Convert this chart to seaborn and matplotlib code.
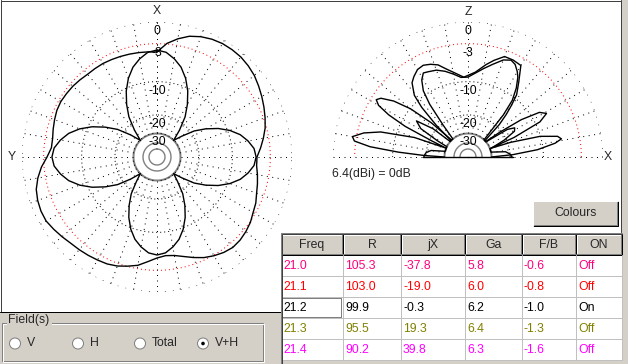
import numpy as np
import matplotlib
matplotlib.use("Agg")
import matplotlib.pyplot as plt
from matplotlib.patches import Rectangle, Circle
import seaborn as sns

# Diagrama horizontal (azimut en grados, de X hacia Y), ganancia en dB
az_clover_ang = np.arange(0, 360, 5)
az_clover_db = [-4.0, -4.3, -5.2, -6.4, -8.2, -10.6, -13.7, -17.4, -23.2, -30,
                -23.5, -17.7, -14.0, -10.9, -8.5, -6.7, -5.5, -4.6,
                -4.3,
                -4.6, -5.5, -6.7, -8.5, -10.9, -14.0, -17.7, -23.5, -30,
                -24.7, -18.9, -15.2, -12.1, -9.7, -7.9, -6.7, -5.8,
                -5.5,
                -5.8, -6.7, -7.9, -9.7, -12.1, -15.2, -18.9, -24.7, -30,
                -24.5, -18.7, -15.0, -11.9, -9.5, -7.7, -6.5, -5.6,
                -5.3,
                -5.6, -6.5, -7.7, -9.5, -11.9, -15.0, -18.7, -24.5, -30,
                -23.2, -17.4, -13.7, -10.6, -8.2, -6.4, -5.2, -4.3]
az_round_ang = np.arange(0, 360, 5)
az_round_db = [-4.31, -4.23, -4.15, -4.07, -3.99, -3.91, -3.83, -3.83, -3.83,
               -3.67, -3.52, -3.44, -3.36, -3.44, -3.67, -3.91, -4.15, -4.15,
               -3.52, -2.60, -1.88, -1.32, -1.05, -0.91, -0.91, -1.18, -1.46,
               -1.74, -1.88, -2.02, -2.17, -2.31, -2.60, -3.05, -3.52, -4.31,
               -4.98, -5.32, -5.15, -4.64, -3.99, -3.36, -2.90, -2.53, -2.31,
               -2.38, -2.60, -2.90, -3.36, -3.67, -4.15, -4.48, -4.81, -5.15,
               -5.15, -4.48, -3.83, -3.21, -2.75, -2.31, -1.88, -1.46, -1.05,
               -0.78, -0.58, -0.52, -0.52, -0.65, -0.91, -1.32, -2.02, -2.90]

# Diagrama vertical (elevación en grados desde X hacia Z)
el_a_ang = [0, 4, 8, 12, 20, 25, 29, 32, 35, 38, 40, 44, 46, 48, 50, 52, 56, 60,
            65, 70, 75, 79, 85, 93, 98, 104, 108, 112, 116, 120, 124, 127, 131,
            133, 135, 136, 139, 141, 145, 149, 152, 154, 166, 170, 174, 177, 180]
el_a_db = [-19.2, -20.0, -21.8, -30, -30, -20.9, -16.0, -15.4, -17.7, -25.8, -30,
           -30, -18.9, -14.8, -11.8, -9.2, -6.8, -4.2, -4.0, -4.0, -5.15, -6.2,
           -7.9, -9.0, -8.1, -6.8, -5.7, -5.15, -4.8, -4.98, -5.7, -6.4, -8.6,
           -11.8, -18.9, -30, -30, -18.9, -13.1, -15.4, -23.2, -30, -30, -22.0,
           -20.0, -19.5, -19.2]
el_b_ang = [0, 3, 6, 9, 11, 13, 16, 19, 21, 23, 26, 29, 32, 35, 38, 41, 47, 50,
            52, 55, 58, 60, 63, 66, 70, 75, 80, 85, 90, 95, 100, 105, 110, 115,
            118, 121, 124, 126, 128, 130, 134, 137, 140, 143, 146, 148, 150, 152,
            154, 156, 158, 160, 164, 167, 170, 172, 174, 176, 178, 180]
el_b_db = [-30, -18.9, -11.3, -7.3, -6.0, -6.6, -10.1, -18.9, -30, -17.0, -9.0,
           -7.0, -8.1, -12.5, -20.9, -30, -30, -15.4, -10.8, -8.1, -6.2, -5.4,
           -4.5, -4.15, -4.6, -5.85, -7.0, -8.1, -9.0, -9.0, -8.1, -7.2, -6.5,
           -6.2, -6.0, -7.0, -9.0, -12.5, -20.9, -30, -30, -17.0, -10.1, -6.4,
           -4.3, -3.8, -4.6, -7.0, -11.3, -20.9, -30, -14.8, -6.8, -4.0, -2.4,
           -2.8, -5.4, -11.3, -19.2, -30]

ring_db = [0, -3, -10, -20, -30]

# Tabla de frecuencias
headers = ["Freq", "R", "jX", "Ga", "F/B", "ON"]
freq = ["21.0", "21.1", "21.2", "21.3", "21.4"]
res = ["105.3", "103.0", "99.9", "95.5", "90.2"]
jx = ["-37.8", "-19.0", "-0.3", "19.3", "39.8"]
ga = ["5.8", "6.0", "6.2", "6.4", "6.3"]
fb = ["-0.6", "-0.8", "-1.0", "-1.3", "-1.6"]
on = ["Off", "Off", "On", "Off", "Off"]
row_colors = ["#ff0080", "#ff0000", "#000000", "#808000", "#ff00ff"]
fields = ["V", "H", "Total", "V+H"]

W, H = 628, 364
GRAY = "#d4d0c8"
DARK = "#808080"
PX = 0.72  # un pixel en puntos

sns.set_theme(style="white")
plt.rcParams["font.family"] = ["Liberation Sans", "DejaVu Sans"]
plt.rcParams["lines.scale_dashes"] = False
FS = 8.8


def arrl(db):
    # escala logarítmica ARRL usada por MMANA
    return 0.89 ** (-np.clip(np.asarray(db, dtype=float), -30, 0) / 2)


def polar_axes(cx, cy, R, zero):
    ax = fig.add_axes([(cx - R) / W, 1 - (cy + R) / H, 2 * R / W, 2 * R / H],
                      projection="polar")
    ax.set_theta_zero_location(zero)
    ax.set_theta_direction(1)
    ax.set_ylim(0, 1)
    ax.axis("off")
    ax.patch.set_alpha(0)
    return ax


def draw_grid(ax, t0, t1, top):
    th = np.radians(np.linspace(t0, t1, 1441))
    styles = {0: ("black", (0, (PX, 7 * PX))), -3: ("red", (0, (PX, 3 * PX))),
              -10: ("black", (0, (PX, 3 * PX))), -20: ("black", (0, (PX, 2.5 * PX)))}
    for db, (col, ls) in styles.items():
        ax.plot(th, np.full_like(th, arrl(db)), color=col, lw=PX, ls=ls)
    ax.plot(th, np.full_like(th, arrl(-30)), color=DARK, lw=1.4)
    for rr in (14 / 135, 8 / 135):
        ax.plot(th, np.full_like(th, rr), color=DARK, lw=1.0)
    for a in np.arange(t0, t1 + 1, 10):
        ax.plot([np.radians(a)] * 2, [arrl(-30), 1.0], color="black", lw=PX,
                ls=(0, (PX, 4.5 * PX)))
    for db in ring_db:
        ax.text(np.radians(top), arrl(db) - 9 / 135, f"{db}", ha="center",
                va="center", fontsize=FS, color="black", zorder=5)


def draw_pattern(ax, ang, db, close=False):
    ang = list(ang)
    db = list(db)
    if close:
        ang, db = ang + ang[:1], db + db[:1]
    sns.lineplot(x=np.radians(ang), y=arrl(db), ax=ax, color="black", lw=1.0,
                 sort=False, estimator=None)


fig = plt.figure(figsize=(W / 100, H / 100), dpi=100)
fig.patch.set_facecolor(GRAY)
bg = fig.add_axes([0, 0, 1, 1])
bg.set_xlim(0, W)
bg.set_ylim(H, 0)
bg.axis("off")

# lienzo blanco y bordes
bg.add_patch(Rectangle((0, 0), 621, 312, fc="white", ec="none"))
bg.plot([0.5, 620.5], [0.5, 0.5], color="#404040", lw=PX)
bg.plot([0.5, 0.5], [0, 312], color="#404040", lw=PX)
bg.plot([620.5, 620.5], [0, 232], color="#404040", lw=PX)
bg.plot([0, 281], [311.5, 311.5], color="black", lw=PX)

# diagrama horizontal
ax1 = polar_axes(157, 157, 135, "N")
draw_grid(ax1, 0, 360, 0)
draw_pattern(ax1, az_round_ang, az_round_db, close=True)
draw_pattern(ax1, az_clover_ang, az_clover_db, close=True)
ax1.text(0, 146 / 135, "X", ha="center", va="center", fontsize=FS, clip_on=False)
ax1.text(np.pi / 2, 145 / 135, "Y", ha="center", va="center", fontsize=FS, clip_on=False)

# diagrama vertical
ax2 = polar_axes(468, 157, 135, "E")
draw_grid(ax2, 0, 180, 90)
ax2.plot([0, 0], [0, 45 / 135], color="black", lw=1.0)
ax2.plot([np.pi, np.pi], [0, 45 / 135], color="black", lw=1.0)
draw_pattern(ax2, el_a_ang, el_a_db)
draw_pattern(ax2, el_b_ang, el_b_db)
ax2.text(np.pi / 2, 145 / 135, "Z", ha="center", va="center", fontsize=FS, clip_on=False)
ax2.text(0, 140 / 135, "X", ha="center", va="center", fontsize=FS, clip_on=False)
bg.text(332, 174, "6.4(dBi) = 0dB", ha="left", va="center", fontsize=FS)

# botón Colours
bx, by, bw, bh = 533, 201, 85, 25
bg.add_patch(Rectangle((bx, by), bw, bh, fc=GRAY, ec="none"))
bg.plot([bx, bx + bw, bx + bw], [by + bh, by + bh, by], color="black", lw=PX)
bg.plot([bx + 1, bx + bw - 1, bx + bw - 1], [by + bh - 1, by + bh - 1, by + 1], color=DARK, lw=PX)
bg.plot([bx, bx, bx + bw], [by + bh, by, by], color="white", lw=PX)
bg.text(bx + bw / 2, by + bh / 2, "Colours", ha="center", va="center", fontsize=FS)

# tabla
cols = [281, 343, 401, 465, 522, 576, 622]
hy0, hy1 = 234, 255
rh = 21
bg.add_patch(Rectangle((cols[0], hy0), cols[-1] - cols[0], hy1 - hy0, fc=GRAY, ec="none"))
bg.add_patch(Rectangle((cols[0], hy1), cols[-1] - cols[0], rh * 5, fc="white", ec="none"))
for i, h in enumerate(headers):
    x0, x1 = cols[i], cols[i + 1]
    bg.plot([x0 + 1, x0 + 1, x1 - 1], [hy1 - 1, hy0 + 1, hy0 + 1], color="white", lw=PX)
    bg.plot([x0, x1 - 1, x1 - 1], [hy1 - 1, hy1 - 1, hy0], color=DARK, lw=PX)
    bg.plot([x1, x1], [hy0, hy1], color="black", lw=PX)
    bg.text((x0 + x1) / 2, (hy0 + hy1) / 2 + 0.5, h, ha="center", va="center", fontsize=FS)
bg.plot([cols[0], cols[-1]], [hy1, hy1], color="black", lw=PX)
for k in range(1, 6):
    bg.plot([cols[0], cols[-1]], [hy1 + k * rh, hy1 + k * rh], color="#c0c0c0", lw=PX)
for c in cols[1:]:
    bg.plot([c, c], [hy1, hy1 + 5 * rh], color="#c0c0c0", lw=PX)
table_cols = [freq, res, jx, ga, fb, on]
for r in range(5):
    yc = hy1 + r * rh + rh / 2 + 0.5
    for i, colvals in enumerate(table_cols):
        bg.text(cols[i] + 2, yc, colvals[r], ha="left", va="center", fontsize=FS,
                color=row_colors[r])
bg.add_patch(Rectangle((cols[0] + 1, hy1 + 2 * rh + 1), cols[1] - cols[0] - 3, rh - 2,
                       fc="none", ec="black", lw=PX, ls=(0, (PX, PX))))
bg.plot([cols[0], cols[0], cols[-1]], [H, hy0 - 1, hy0 - 1], color=DARK, lw=PX)
bg.plot([cols[0] + 1, cols[0] + 1, cols[-1]], [H, hy0, hy0], color="#404040", lw=PX)

# grupo Field(s)
bg.add_patch(Rectangle((2, 322.5), 261, 38.5, fc="none", ec=DARK, lw=PX))
bg.add_patch(Rectangle((3, 323.5), 261, 38.5, fc="none", ec="white", lw=PX))
bg.add_patch(Rectangle((7, 315), 45, 12, fc=GRAY, ec="none"))
bg.text(8, 320.5, "Field(s)", ha="left", va="center", fontsize=FS)
for x, lab in zip([15, 78, 140, 203], fields):
    bg.add_patch(Circle((x, 343.5), 5.5, fc="white", ec=DARK, lw=PX))
    bg.text(x + 12, 343.5, lab, ha="left", va="center", fontsize=FS)
bg.add_patch(Circle((203, 343.5), 1.8, fc="black", ec="none"))

fig.savefig("out.png", dpi=100, facecolor=fig.get_facecolor())
